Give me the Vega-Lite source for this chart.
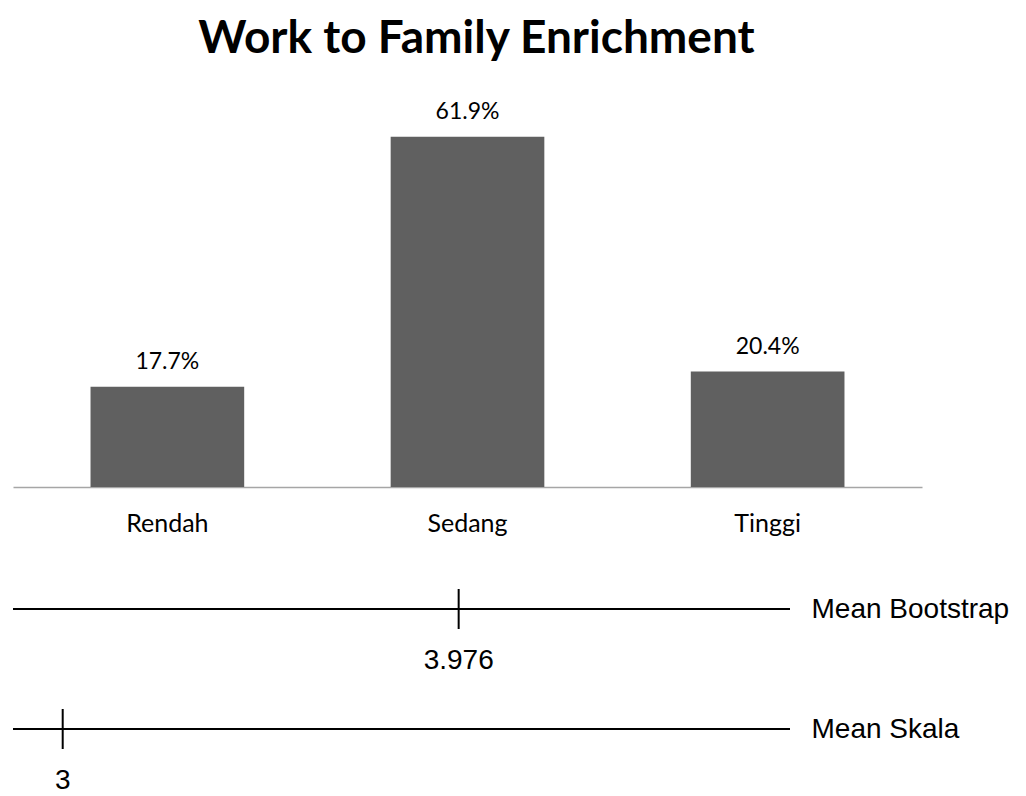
{
  "$schema": "https://vega.github.io/schema/vega-lite/v6.json",
  "padding": {"left": 12, "top": 16, "right": 0, "bottom": 0},
  "autosize": {"type": "pad"},
  "background": "white",
  "config": {"view": {"stroke": null}, "font": "Lato"},
  "spacing": 13,
  "vconcat": [
    {
      "title": {"text": "Work to Family Enrichment", "fontSize": 46, "font": "Lato", "fontWeight": "bold", "anchor": "middle", "dx": 9, "offset": 28, "color": "black"},
      "width": 909,
      "height": 396,
      "data": {"values": [
        {"level": "Rendah", "share": 0.177},
        {"level": "Sedang", "share": 0.619},
        {"level": "Tinggi", "share": 0.204}
      ]},
      "encoding": {
        "x": {"field": "level", "type": "nominal", "sort": null,
          "scale": {"paddingInner": 0.488, "paddingOuter": 0.2583},
          "axis": {"title": null, "labelAngle": 0, "ticks": false, "domainColor": "#a6a6a6", "domainWidth": 1.5, "labelFontSize": 25, "labelColor": "black", "labelPadding": 24, "labelFont": "Lato"}},
        "y": {"field": "share", "type": "quantitative", "scale": {"domain": [0, 0.7]}, "axis": null}
      },
      "layer": [
        {"mark": {"type": "bar", "color": "#606060"}},
        {"mark": {"type": "text", "dy": -25, "fontSize": 23, "font": "Lato", "color": "black", "baseline": "middle"},
         "encoding": {"text": {"field": "share", "type": "quantitative", "format": ".1%"}}}
      ]
    },
    {
      "width": 777,
      "height": 240,
      "data": {"values": [
        {"series": "Mean Bootstrap", "mean": 3.976},
        {"series": "Mean Skala", "mean": 3}
      ]},
      "encoding": {
        "y": {"field": "series", "type": "nominal", "sort": null,
          "scale": {"type": "point", "padding": 0.5},
          "axis": {"orient": "right", "title": null, "domain": false, "ticks": false, "labelPadding": 21, "labelLimit": 0, "labelFontSize": 28, "labelFont": "Liberation Sans", "labelColor": "black"}}
      },
      "layer": [
        {"mark": {"type": "rule", "color": "black", "strokeWidth": 2}, "encoding": {}},
        {"mark": {"type": "tick", "color": "black", "opacity": 1, "thickness": 2, "size": 40},
         "encoding": {"x": {"field": "mean", "type": "quantitative", "scale": {"domain": [2.8775, 4.7927], "nice": false, "zero": false}, "axis": null}}},
        {"mark": {"type": "text", "dy": 52, "fontSize": 28, "font": "Liberation Sans", "color": "black", "baseline": "middle"},
         "encoding": {"x": {"field": "mean", "type": "quantitative", "scale": {"domain": [2.8775, 4.7927], "nice": false, "zero": false}, "axis": null},
                      "text": {"field": "mean", "type": "nominal"}}}
      ]
    }
  ]
}
